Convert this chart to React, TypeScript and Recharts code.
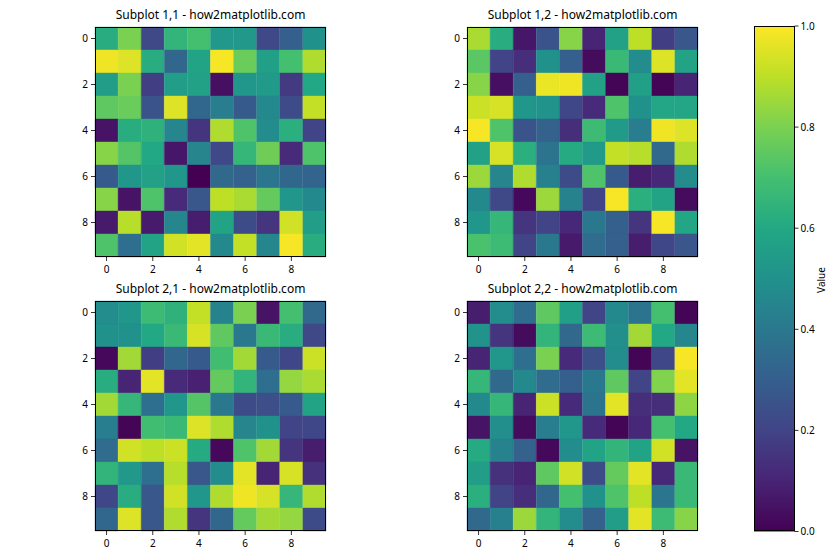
import React from 'react';
import { BarChart, Bar, XAxis, YAxis, Cell } from 'recharts';

// values, row by row (row 0 at the top)
const grid11 = [
  [0.62, 0.8, 0.22, 0.65, 0.7, 0.53, 0.53, 0.22, 0.3, 0.5],
  [0.98, 0.95, 0.62, 0.33, 0.58, 0.99, 0.77, 0.56, 0.7, 0.88],
  [0.55, 0.8, 0.18, 0.55, 0.57, 0.04, 0.52, 0.54, 0.17, 0.6],
  [0.75, 0.77, 0.26, 0.95, 0.33, 0.42, 0.28, 0.47, 0.23, 0.91],
  [0.05, 0.62, 0.64, 0.45, 0.15, 0.88, 0.72, 0.48, 0.63, 0.2],
  [0.82, 0.73, 0.6, 0.06, 0.45, 0.22, 0.66, 0.78, 0.12, 0.72],
  [0.28, 0.52, 0.57, 0.52, 0.0, 0.34, 0.31, 0.39, 0.33, 0.32],
  [0.82, 0.05, 0.72, 0.12, 0.27, 0.9, 0.87, 0.76, 0.52, 0.47],
  [0.07, 0.89, 0.07, 0.46, 0.08, 0.58, 0.23, 0.15, 0.93, 0.55],
  [0.72, 0.36, 0.58, 0.93, 0.96, 0.47, 0.91, 0.46, 0.99, 0.62],
];

const grid12 = [
  [0.87, 0.62, 0.06, 0.26, 0.82, 0.1, 0.57, 0.9, 0.18, 0.27],
  [0.74, 0.2, 0.13, 0.5, 0.3, 0.03, 0.67, 0.48, 0.95, 0.58],
  [0.82, 0.04, 0.3, 0.97, 0.98, 0.57, 0.01, 0.56, 0.01, 0.1],
  [0.92, 0.94, 0.52, 0.51, 0.21, 0.12, 0.72, 0.5, 0.59, 0.59],
  [0.99, 0.72, 0.26, 0.31, 0.13, 0.68, 0.54, 0.42, 0.98, 0.95],
  [0.57, 0.94, 0.63, 0.38, 0.61, 0.54, 0.91, 0.89, 0.34, 0.88],
  [0.85, 0.45, 0.88, 0.43, 0.23, 0.72, 0.28, 0.08, 0.11, 0.48],
  [0.47, 0.22, 0.02, 0.85, 0.44, 0.2, 0.99, 0.63, 0.58, 0.03],
  [0.52, 0.66, 0.15, 0.2, 0.11, 0.4, 0.3, 0.15, 0.99, 0.59],
  [0.71, 0.68, 0.2, 0.4, 0.07, 0.35, 0.3, 0.08, 0.21, 0.27],
];

const grid21 = [
  [0.48, 0.52, 0.68, 0.64, 0.91, 0.44, 0.8, 0.05, 0.7, 0.34],
  [0.5, 0.5, 0.6, 0.67, 0.94, 0.75, 0.4, 0.67, 0.62, 0.22],
  [0.02, 0.86, 0.18, 0.33, 0.28, 0.69, 0.86, 0.28, 0.21, 0.92],
  [0.62, 0.1, 0.96, 0.12, 0.09, 0.76, 0.65, 0.36, 0.84, 0.87],
  [0.86, 0.66, 0.36, 0.52, 0.73, 0.4, 0.23, 0.24, 0.28, 0.58],
  [0.42, 0.01, 0.69, 0.67, 0.95, 0.88, 0.45, 0.5, 0.2, 0.21],
  [0.35, 0.93, 0.9, 0.92, 0.61, 0.02, 0.72, 0.86, 0.15, 0.08],
  [0.65, 0.53, 0.36, 0.89, 0.27, 0.48, 0.96, 0.1, 0.94, 0.14],
  [0.21, 0.62, 0.27, 0.93, 0.52, 0.88, 0.98, 0.94, 0.66, 0.88],
  [0.33, 0.95, 0.27, 0.88, 0.15, 0.33, 0.76, 0.86, 0.84, 0.23],
];

const grid22 = [
  [0.08, 0.48, 0.35, 0.75, 0.56, 0.2, 0.47, 0.38, 0.7, 0.01],
  [0.51, 0.15, 0.03, 0.65, 0.34, 0.68, 0.49, 0.86, 0.6, 0.46],
  [0.1, 0.52, 0.36, 0.8, 0.12, 0.24, 0.48, 0.01, 0.21, 0.99],
  [0.66, 0.34, 0.47, 0.35, 0.3, 0.4, 0.75, 0.2, 0.81, 0.96],
  [0.47, 0.66, 0.1, 0.92, 0.12, 0.38, 0.96, 0.13, 0.13, 0.83],
  [0.05, 0.49, 0.03, 0.42, 0.52, 0.12, 0.01, 0.11, 0.7, 0.6],
  [0.61, 0.44, 0.31, 0.02, 0.48, 0.58, 0.65, 0.58, 0.93, 0.05],
  [0.55, 0.14, 0.1, 0.75, 0.93, 0.23, 0.76, 0.96, 0.11, 0.67],
  [0.63, 0.2, 0.13, 0.33, 0.7, 0.5, 0.72, 0.9, 0.39, 0.67],
  [0.34, 0.43, 0.85, 0.65, 0.48, 0.31, 0.55, 0.96, 0.68, 0.82],
];

const cols = [0, 1, 2, 3, 4, 5, 6, 7, 8, 9];
const rows = [0, 1, 2, 3, 4, 5, 6, 7, 8, 9];
const rowTicks = [0, 2, 4, 6, 8];
const cbarTicks = [0, 0.2, 0.4, 0.6, 0.8, 1.0];

const titles = [
  'Subplot 1,1 - how2matplotlib.com',
  'Subplot 1,2 - how2matplotlib.com',
  'Subplot 2,1 - how2matplotlib.com',
  'Subplot 2,2 - how2matplotlib.com',
];

const VIRIDIS = ['#440154', '#482475', '#414487', '#355f8d', '#2a788e', '#21918c',
  '#22a884', '#44bf70', '#7ad151', '#bddf26', '#fde725'];

function hexToRgb(h: string) {
  return [1, 3, 5].map(i => parseInt(h.slice(i, i + 2), 16));
}

function viridis(v: number) {
  const t = Math.max(0, Math.min(1, v)) * 10;
  const i = Math.min(9, Math.floor(t));
  const f = t - i;
  const a = hexToRgb(VIRIDIS[i]);
  const b = hexToRgb(VIRIDIS[i + 1]);
  const c = a.map((x, k) => Math.round(x + (b[k] - x) * f));
  return `rgb(${c[0]},${c[1]},${c[2]})`;
}

const FONT = '"Noto Sans", "DejaVu Sans", sans-serif';
const PLOT_W = 231;
const PLOT_H = 230;
const Y_W = 30;
const X_H = 25;
const PAD = 8;
const tickStyle = { fill: '#000', fontSize: 10, fontFamily: FONT };

function Heatmap({ grid, title, left, top }: { grid: number[][]; title: string; left: number; top: number }) {
  // one entry per column, each row is one unit slice in the stack
  const data = cols.map(c => {
    const d: Record<string, number> = { col: c };
    rows.forEach(r => { d['r' + r] = 1; });
    return d;
  });

  return (
    <>
      <div style={{
        position: 'absolute', left, top: top - 20, width: PLOT_W, textAlign: 'center',
        fontSize: 12, lineHeight: '16px', fontFamily: FONT, color: '#000', whiteSpace: 'nowrap',
      }}>
        {title}
      </div>
      <div style={{ position: 'absolute', left: left - Y_W, top: top - PAD }}>
        <BarChart
          width={Y_W + PLOT_W + PAD}
          height={PAD + PLOT_H + X_H}
          data={data}
          margin={{ top: PAD, right: PAD, left: 0, bottom: 0 }}
          barCategoryGap={0}
          barGap={0}
        >
          <XAxis
            dataKey="col"
            type="category"
            height={X_H}
            interval={1}
            axisLine={false}
            tickLine={{ stroke: '#000', strokeWidth: 0.8 }}
            tickSize={4}
            tickMargin={5}
            tick={tickStyle}
          />
          <YAxis
            type="number"
            domain={[0, 10]}
            reversed
            width={Y_W}
            ticks={rowTicks.map(t => t + 0.5)}
            tickFormatter={(v: number) => String(v - 0.5)}
            interval={0}
            axisLine={false}
            tickLine={{ stroke: '#000', strokeWidth: 0.8 }}
            tickSize={4}
            tickMargin={3}
            tick={tickStyle}
          />
          {rows.map(r => (
            <Bar key={r} dataKey={'r' + r} stackId="a" isAnimationActive={false}>
              {cols.map(c => (
                <Cell key={c} fill={viridis(grid[r][c])} stroke={viridis(grid[r][c])} strokeWidth={0.4} />
              ))}
            </Bar>
          ))}
        </BarChart>
      </div>
      <div style={{
        position: 'absolute', left, top, width: PLOT_W, height: PLOT_H,
        boxSizing: 'border-box', border: '1px solid #000', pointerEvents: 'none',
      }} />
    </>
  );
}

function Colorbar({ left, top, width, height }: { left: number; top: number; width: number; height: number }) {
  const data = [{ name: 'cbar', span: 1 }];
  return (
    <>
      <div style={{ position: 'absolute', left, top: top - PAD }}>
        <BarChart
          width={width + 30}
          height={height + 2 * PAD}
          data={data}
          margin={{ top: PAD, right: 0, left: 0, bottom: PAD }}
          barCategoryGap={0}
        >
          <defs>
            <linearGradient id="viridisGrad" x1="0" y1="1" x2="0" y2="0">
              {VIRIDIS.map((c, i) => (
                <stop key={i} offset={`${i * 10}%`} stopColor={c} />
              ))}
            </linearGradient>
          </defs>
          <XAxis dataKey="name" hide />
          <YAxis
            orientation="right"
            type="number"
            domain={[0, 1]}
            ticks={cbarTicks}
            interval={0}
            width={30}
            tickFormatter={(v: number) => v.toFixed(1)}
            axisLine={false}
            tickLine={{ stroke: '#000', strokeWidth: 0.8 }}
            tickSize={4}
            tickMargin={2}
            tick={tickStyle}
          />
          <Bar dataKey="span" fill="url(#viridisGrad)" isAnimationActive={false} />
        </BarChart>
      </div>
      <div style={{
        position: 'absolute', left, top, width, height,
        boxSizing: 'border-box', border: '1px solid #000', pointerEvents: 'none',
      }} />
      <div style={{
        position: 'absolute', left: 821 - 30, top: 280 - 8, width: 60, height: 16,
        lineHeight: '16px', textAlign: 'center', fontSize: 10, fontFamily: FONT, color: '#000',
        transform: 'rotate(-90deg)',
      }}>
        Value
      </div>
    </>
  );
}

export default function App() {
  return (
    <div style={{
      position: 'absolute', left: 0, top: 0, width: 840, height: 560,
      background: '#fff', overflow: 'hidden',
    }}>
      <Heatmap grid={grid11} title={titles[0]} left={95} top={27} />
      <Heatmap grid={grid12} title={titles[1]} left={467} top={27} />
      <Heatmap grid={grid21} title={titles[2]} left={95} top={301} />
      <Heatmap grid={grid22} title={titles[3]} left={467} top={301} />
      <Colorbar left={754} top={25.5} width={40.5} height={505.5} />
    </div>
  );
}
